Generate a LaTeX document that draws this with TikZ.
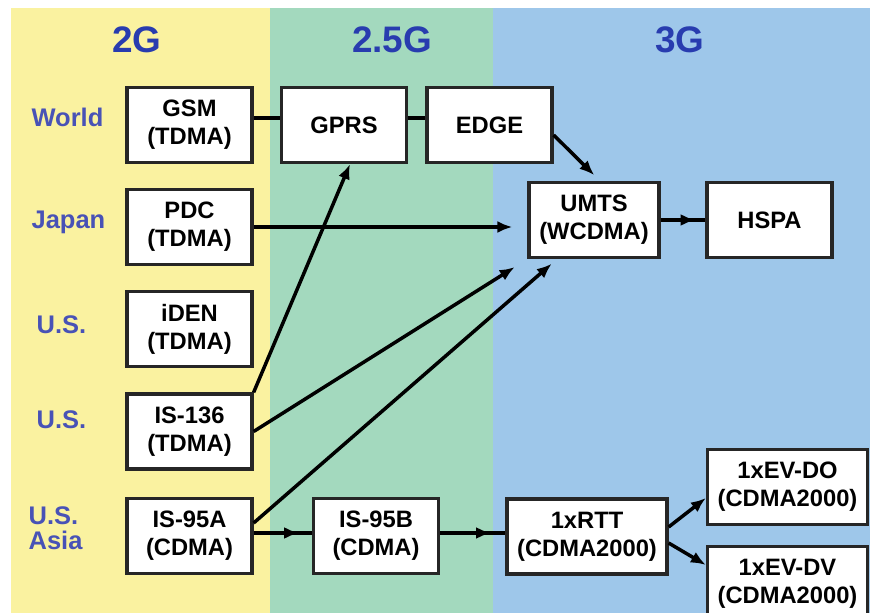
\documentclass[tikz,border=0pt]{standalone}
\usepackage{fontspec}
\setmainfont{Liberation Sans}
\usepackage{xcolor}
\usepackage{tikz}
\usetikzlibrary{arrows.meta}
\usetikzlibrary{decorations.markings}
\definecolor{bandyellow}{RGB}{250,242,160}
\definecolor{bandgreen}{RGB}{163,217,190}
\definecolor{bandblue}{RGB}{158,199,234}
\definecolor{genblue}{RGB}{40,60,175}
\definecolor{regionblue}{RGB}{72,82,182}
\tikzset{ tech_box/.style = {rectangle, draw=black!85, line width=0.65mm, fill=white, align=center, inner sep=0pt, minimum width=25mm, minimum height=15mm, font=\fontsize{13.5}{16}\selectfont\bfseries} }
\tikzset{ gen_lbl/.style = {text=genblue, font=\fontsize{21}{24}\selectfont\bfseries} }
\tikzset{ region_lbl/.style = {anchor=west, align=left, text=regionblue, font=\fontsize{14.5}{14}\selectfont\bfseries} }
\tikzset{ mid_arrow/.style = {postaction={decorate}, decoration={markings, mark=at position 0.78 with {\arrow{Latex[length=3mm,width=2.4mm]}}}} }

\begin{document}
\begin{tikzpicture}[x=0.2mm, y=-0.2mm, line width=0.7mm, >={Latex[length=3mm,width=2.4mm]}]
            \clip (0,0) rectangle (870,613);
            \fill[bandyellow] (11,8) rectangle (270,613);
            \fill[bandgreen] (270,8) rectangle (493,613);
            \fill[bandblue] (493,8) rectangle (870,613);
            \node[gen_lbl] (g2) at (137,40) {2G};
            \node[gen_lbl] (g25) at (392,40) {2.5G};
            \node[gen_lbl] (g3) at (680,40) {3G};
            \node[region_lbl] (r0) at (24,117) {World};
            \node[region_lbl] (r1) at (24,222) {Japan};
            \node[region_lbl] (r2) at (29,325) {U.S.};
            \node[region_lbl] (r3) at (29,420) {U.S.};
            \node[region_lbl] (r4) at (21,528) {U.S.\\Asia};
            \node[tech_box] (0) at (189.5,125) {GSM\\(TDMA)};
            \node[tech_box] (1) at (189.5,227) {PDC\\(TDMA)};
            \node[tech_box] (2) at (189.5,329) {iDEN\\(TDMA)};
            \node[tech_box] (3) at (189.5,431.5) {IS-136\\(TDMA)};
            \node[tech_box] (4) at (189.5,536) {IS-95A\\(CDMA)};
            \node[tech_box] (5) at (344,125) {GPRS};
            \node[tech_box] (6) at (489.5,125) {EDGE};
            \node[tech_box, minimum width=26mm] (7) at (594,220) {UMTS\\(WCDMA)};
            \node[tech_box] (8) at (769.5,220) {HSPA};
            \node[tech_box] (9) at (376,536) {IS-95B\\(CDMA)};
            \node[tech_box, minimum width=32mm] (10) at (587,536.5) {1xRTT\\(CDMA2000)};
            \node[tech_box, minimum width=32mm] (11) at (787.5,487) {1xEV-DO\\(CDMA2000)};
            \node[tech_box, minimum width=32mm] (12) at (787.5,584) {1xEV-DV\\(CDMA2000)};
            \draw ([yshift=1.4mm]0.east) to ([yshift=1.4mm]5.west);
            \draw ([yshift=1.4mm]5.west -| 5.east) to ([yshift=1.4mm]6.west);
            \draw[->, shorten >=1.6mm] ([yshift=-2mm]6.east) to ([xshift=1.2mm]7.north);
            \draw[->, shorten >=3mm] (1.east) to (1.east -| 7.west);
            \draw[mid_arrow] (7) to (8);
            \draw[->] (3.north east) to ([xshift=1.2mm]5.south);
            \draw[->, shorten >=3mm] (3.east) to (7.south west);
            \draw[->, shorten >=1.4mm] ([yshift=2.6mm]4.east) to ([xshift=-7.4mm]7.south);
            \draw[mid_arrow] ([yshift=0.6mm]4.east) to ([yshift=0.6mm]9.west);
            \draw[mid_arrow] ([yshift=0.6mm]9.east) to ([yshift=0.6mm]9.east -| 10.west);
            \draw[->] ([yshift=1.9mm]10.east) to ([yshift=-2.2mm]11.west);
            \draw[->] ([yshift=-1.3mm]10.east) to ([yshift=3.8mm]12.west);
        \end{tikzpicture}
\end{document}
